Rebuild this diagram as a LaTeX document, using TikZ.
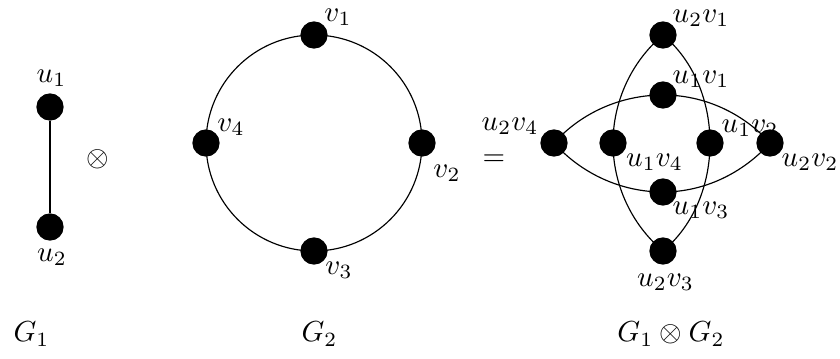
\documentclass[tikz,border=0pt]{standalone}
\begin{document}
\begin{tikzpicture}[x=0.345pt,y=-0.345pt,
  vtx/.style={circle,fill=black,draw=black,minimum size=9pt,inner sep=0pt},
  lbl/.style={inner sep=0pt},
  edge/.style={line width=0.4pt,black}]
\useasboundingbox (0,0) rectangle (840,358);
% G1
\node[vtx] (u1) at (50,107) {};
\node[vtx] (u2) at (50,227) {};
\node[lbl] at (51.5,78) {$u_1$};
\node[lbl] at (52,257) {$u_2$};
\draw[edge] (u1) -- (u2);
\node[lbl] (tensor) at (98,159) {$\otimes$};
% G2
\node[vtx] (v1) at (314,35) {};
\node[vtx] (v2) at (422,143) {};
\node[vtx] (v3) at (314,251) {};
\node[vtx] (v4) at (206,143) {};
\node[lbl] at (338,17) {$v_1$};
\node[lbl] at (447,173) {$v_2$};
\node[lbl] at (339,270) {$v_3$};
\node[lbl] at (231,127) {$v_4$};
\draw[edge] (v1.center) to[out=0,in=90,looseness=0.9975] (v2.center);
\draw[edge] (v2.center) to[out=-90,in=0,looseness=0.9975] (v3.center);
\draw[edge] (v3.center) to[out=180,in=-90,looseness=0.9975] (v4.center);
\draw[edge] (v4.center) to[out=90,in=180,looseness=0.9975] (v1.center);
\node[lbl] (eq) at (494,160) {$=$};
% G1 x G2
\node[vtx] (a21) at (663,35) {};
\node[vtx] (a11) at (663,95) {};
\node[vtx] (a14) at (613,143) {};
\node[vtx] (a12) at (710,143) {};
\node[vtx] (a24) at (554,143) {};
\node[vtx] (a22) at (770,143) {};
\node[vtx] (a13) at (663,192) {};
\node[vtx] (a23) at (663,251) {};
\draw[edge] (a21.center) to[out=220,in=90,looseness=0.89] (a14.center);
\draw[edge] (a14.center) to[out=-90,in=140,looseness=0.89] (a23.center);
\draw[edge] (a21.center) to[out=-40,in=90,looseness=0.89] (a12.center);
\draw[edge] (a12.center) to[out=-90,in=40,looseness=0.89] (a23.center);
\draw[edge] (a24.center) to[out=48,in=180,looseness=0.89] (a11.center);
\draw[edge] (a11.center) to[out=0,in=132,looseness=0.89] (a22.center);
\draw[edge] (a24.center) to[out=-48,in=180,looseness=0.89] (a13.center);
\draw[edge] (a13.center) to[out=0,in=-132,looseness=0.89] (a22.center);
\node[lbl] at (701,18) {$u_2v_1$};
\node[lbl] at (701,79) {$u_1v_1$};
\node[lbl] at (750,128) {$u_1v_2$};
\node[lbl] at (810,162) {$u_2v_2$};
\node[lbl] at (654.5,162) {$u_1v_4$};
\node[lbl] at (701,210) {$u_1v_3$};
\node[lbl] at (665.5,282) {$u_2v_3$};
\node[lbl] at (510,126) {$u_2v_4$};
% captions
\node[lbl] at (31.5,334) {$G_1$};
\node[lbl] at (319.5,334) {$G_2$};
\node[lbl] at (671,334) {$G_1\otimes G_2$};
\end{tikzpicture}
\end{document}
